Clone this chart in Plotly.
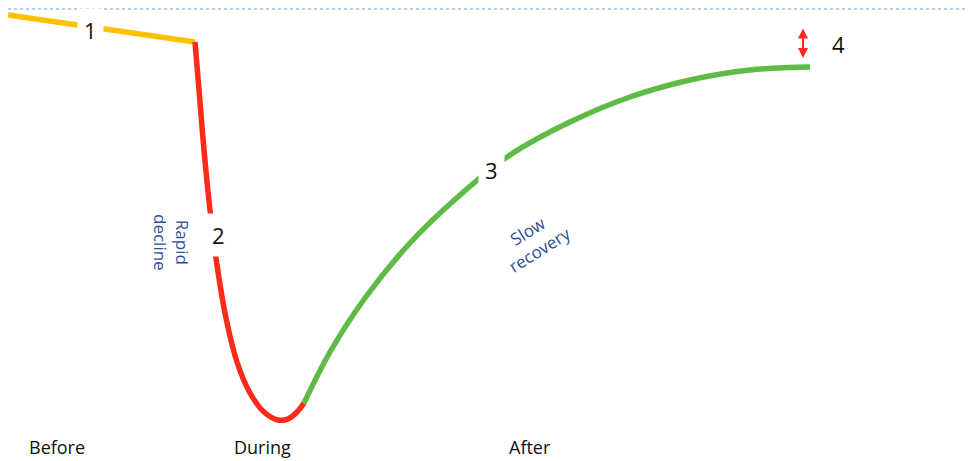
import plotly.graph_objects as go

# Data (pixel-like units, y grows downward)
before_x = [8, 195]
before_y = [15, 42]
decline_x = [195, 199, 204, 210, 217, 226, 237, 250, 264, 278, 288, 297, 304]
decline_y = [42, 90, 150, 210, 265, 318, 362, 393, 412, 420, 419, 412, 403]
recovery_x = [304, 330, 365, 410, 460, 510, 570, 630, 690, 750, 810]
recovery_y = [403, 352, 298, 243, 195, 155, 122, 97, 80, 70, 67]
baseline_y = 9
phase_labels = ["Before", "During", "After"]
phase_x = [57, 262, 530]
num_labels = ["1", "2", "3", "4"]
num_x = [90, 218, 491, 838]
num_y = [30, 235, 170, 44]

fig = go.Figure()
fig.add_trace(go.Scatter(x=[8, 976], y=[baseline_y, baseline_y], mode="lines",
                         line=dict(color="#9DC3E6", width=1.5, dash="dot"), hoverinfo="skip"))
fig.add_trace(go.Scatter(x=before_x, y=before_y, mode="lines",
                         line=dict(color="#FFC000", width=5.5), hoverinfo="skip"))
fig.add_trace(go.Scatter(x=decline_x, y=decline_y, mode="lines", line_shape="spline",
                         line=dict(color="#FF2A1A", width=5.5), hoverinfo="skip"))
fig.add_trace(go.Scatter(x=recovery_x, y=recovery_y, mode="lines", line_shape="spline",
                         line=dict(color="#5DBB46", width=5.5), hoverinfo="skip"))

ann = []
for t, x, y in zip(num_labels, num_x, num_y):
    ann.append(dict(x=x, y=y, text=t, showarrow=False, bgcolor="white", borderpad=6,
                    font=dict(family="Open Sans", size=22, color="#111111")))
for t, x in zip(phase_labels, phase_x):
    ann.append(dict(x=x, y=447, text=t, showarrow=False,
                    font=dict(family="Open Sans", size=18, color="#111111")))
ann.append(dict(x=172, y=242, text="Rapid<br>decline", showarrow=False, textangle=90,
                font=dict(family="Open Sans", size=17, color="#2F4F96")))
ann.append(dict(x=533, y=240, text="Slow<br>recovery", showarrow=False, textangle=-32,
                font=dict(family="Open Sans", size=17, color="#2F4F96")))
# double arrow
ann.append(dict(x=803, y=58, ax=803, ay=27, xref="x", yref="y", axref="x", ayref="y",
                showarrow=True, arrowhead=2, arrowside="end+start", arrowsize=1,
                arrowwidth=2, arrowcolor="#FF2A1A", text=""))

# The page body has an 8px margin, so the figure is sized to the remaining area
fig.update_layout(
    width=968, height=453, margin=dict(l=0, r=0, t=0, b=0),
    plot_bgcolor="white", paper_bgcolor="white", showlegend=False,
    xaxis=dict(range=[8, 976], visible=False, fixedrange=True),
    yaxis=dict(range=[461, 8], visible=False, fixedrange=True),
    annotations=ann,
)
fig.write_html("out.html")
